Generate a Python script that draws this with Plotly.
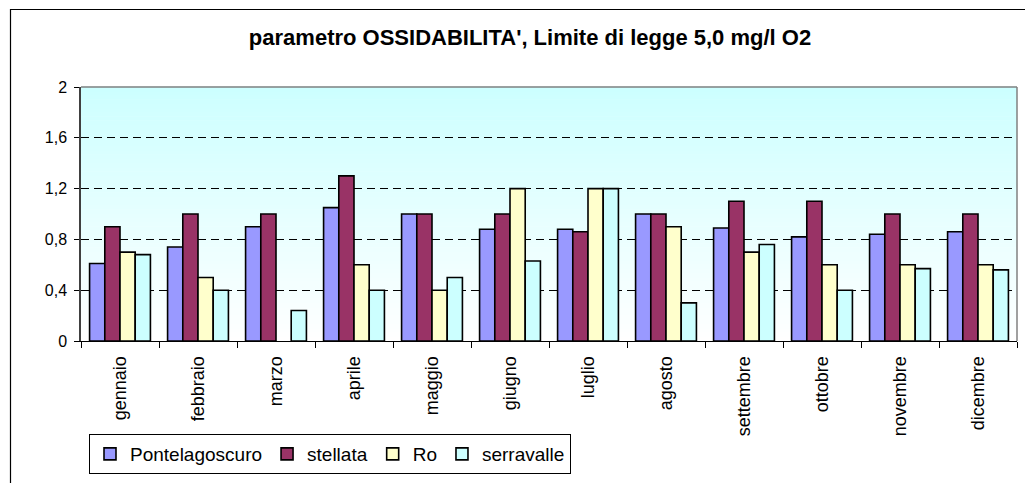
import plotly.graph_objects as go

months = ["gennaio", "febbraio", "marzo", "aprile", "maggio", "giugno",
          "luglio", "agosto", "settembre", "ottobre", "novembre", "dicembre"]
pontelagoscuro = [0.61, 0.74, 0.90, 1.05, 1.00, 0.88, 0.88, 1.00, 0.89, 0.82, 0.84, 0.86]
stellata = [0.90, 1.00, 1.00, 1.30, 1.00, 1.00, 0.86, 1.00, 1.10, 1.10, 1.00, 1.00]
ro = [0.70, 0.50, None, 0.60, 0.40, 1.20, 1.20, 0.90, 0.70, 0.60, 0.60, 0.60]
serravalle = [0.68, 0.40, 0.24, 0.40, 0.50, 0.63, 1.20, 0.30, 0.76, 0.40, 0.57, 0.56]

y_ticks = [0, 0.4, 0.8, 1.2, 1.6, 2]
y_ticktext = ["0", "0,4", "0,8", "1,2", "1,6", "2"]

series = [
    ("Pontelagoscuro", pontelagoscuro, "#9999FF"),
    ("stellata", stellata, "#993366"),
    ("Ro", ro, "#FFFFCC"),
    ("serravalle", serravalle, "#CCFFFF"),
]

# the page body has an 8px margin, so work in page coordinates minus 8
OFF = 8
W, H = 1033, 483
L, R, T, B = 81 - OFF, 1017 - OFF, 87 - OFF, 341 - OFF

FONT = "Arial, Liberation Sans, sans-serif"

fig = go.Figure()
for name, vals, col in series:
    fig.add_trace(go.Bar(
        x=months, y=vals, name=name,
        marker=dict(color=col, line=dict(color="black", width=1.6)),
    ))

def px_x(px):
    return (px - OFF - L) / (R - L)

def px_y(py):
    return (B - (py - OFF)) / (B - T)

shapes = []
# gradient plot background
n = 60
for i in range(n):
    f = i / n
    g = 1 - (i + 0.5) / n  # 1 at bottom -> 0 at top
    r = int(round(0xCC + (0xFF - 0xCC) * g))
    col = "rgb(%d,255,255)" % r
    shapes.append(dict(type="rect", xref="x domain", yref="y domain",
                       x0=0, x1=1, y0=f, y1=f + 1.0 / n + 0.002,
                       fillcolor=col, line=dict(width=0), layer="below"))
# plot area border top/right (gray)
shapes.append(dict(type="line", xref="paper", yref="paper", x0=0, x1=1, y0=1, y1=1,
                   line=dict(color="#808080", width=1.5), layer="above"))
shapes.append(dict(type="line", xref="paper", yref="paper", x0=1, x1=1, y0=0, y1=1,
                   line=dict(color="#808080", width=1.5), layer="above"))
# outer chart border
shapes.append(dict(type="rect", xref="paper", yref="paper",
                   x0=px_x(10.5), x1=px_x(1050), y0=px_y(500), y1=px_y(9.5),
                   line=dict(color="black", width=1.2), fillcolor="rgba(0,0,0,0)", layer="above"))

fig.update_layout(
    width=W, height=H,
    margin=dict(l=L, r=W - R, t=T, b=H - B, autoexpand=False),
    paper_bgcolor="white", plot_bgcolor="white",
    barmode="group", bargap=0.22, bargroupgap=0,
    font=dict(family=FONT, color="black", size=15),
    title=dict(text="<b>parametro OSSIDABILITA', Limite di legge 5,0 mg/l O2</b>",
               x=(530 - OFF) / W, xanchor="center", y=1 - (37 - OFF) / H, yanchor="middle",
               font=dict(size=22, family=FONT, color="black")),
    shapes=shapes,
    legend=dict(orientation="h", x=px_x(89), y=px_y(434), xanchor="left", yanchor="top",
                bordercolor="black", borderwidth=1, bgcolor="white",
                font=dict(size=19, family=FONT),
                itemwidth=30, traceorder="normal", tracegroupgap=0),
    showlegend=True,
)
fig.update_xaxes(
    type="category", showline=True, linecolor="black", linewidth=1,
    ticks="outside", tickson="boundaries", ticklen=6, tickcolor="black",
    tickangle=-90, tickfont=dict(size=18), showgrid=False,
    ticklabelstandoff=7, automargin=False,
)
fig.update_yaxes(
    range=[0, 2], tickvals=y_ticks, ticktext=y_ticktext,
    showline=True, linecolor="#404040", linewidth=1.5,
    ticks="outside", ticklen=5, tickcolor="black",
    showgrid=True, gridcolor="black", gridwidth=1, griddash="8px,5px",
    zeroline=False, tickfont=dict(size=16), ticklabelstandoff=4, automargin=False,
)

fig.write_html("out.html")
